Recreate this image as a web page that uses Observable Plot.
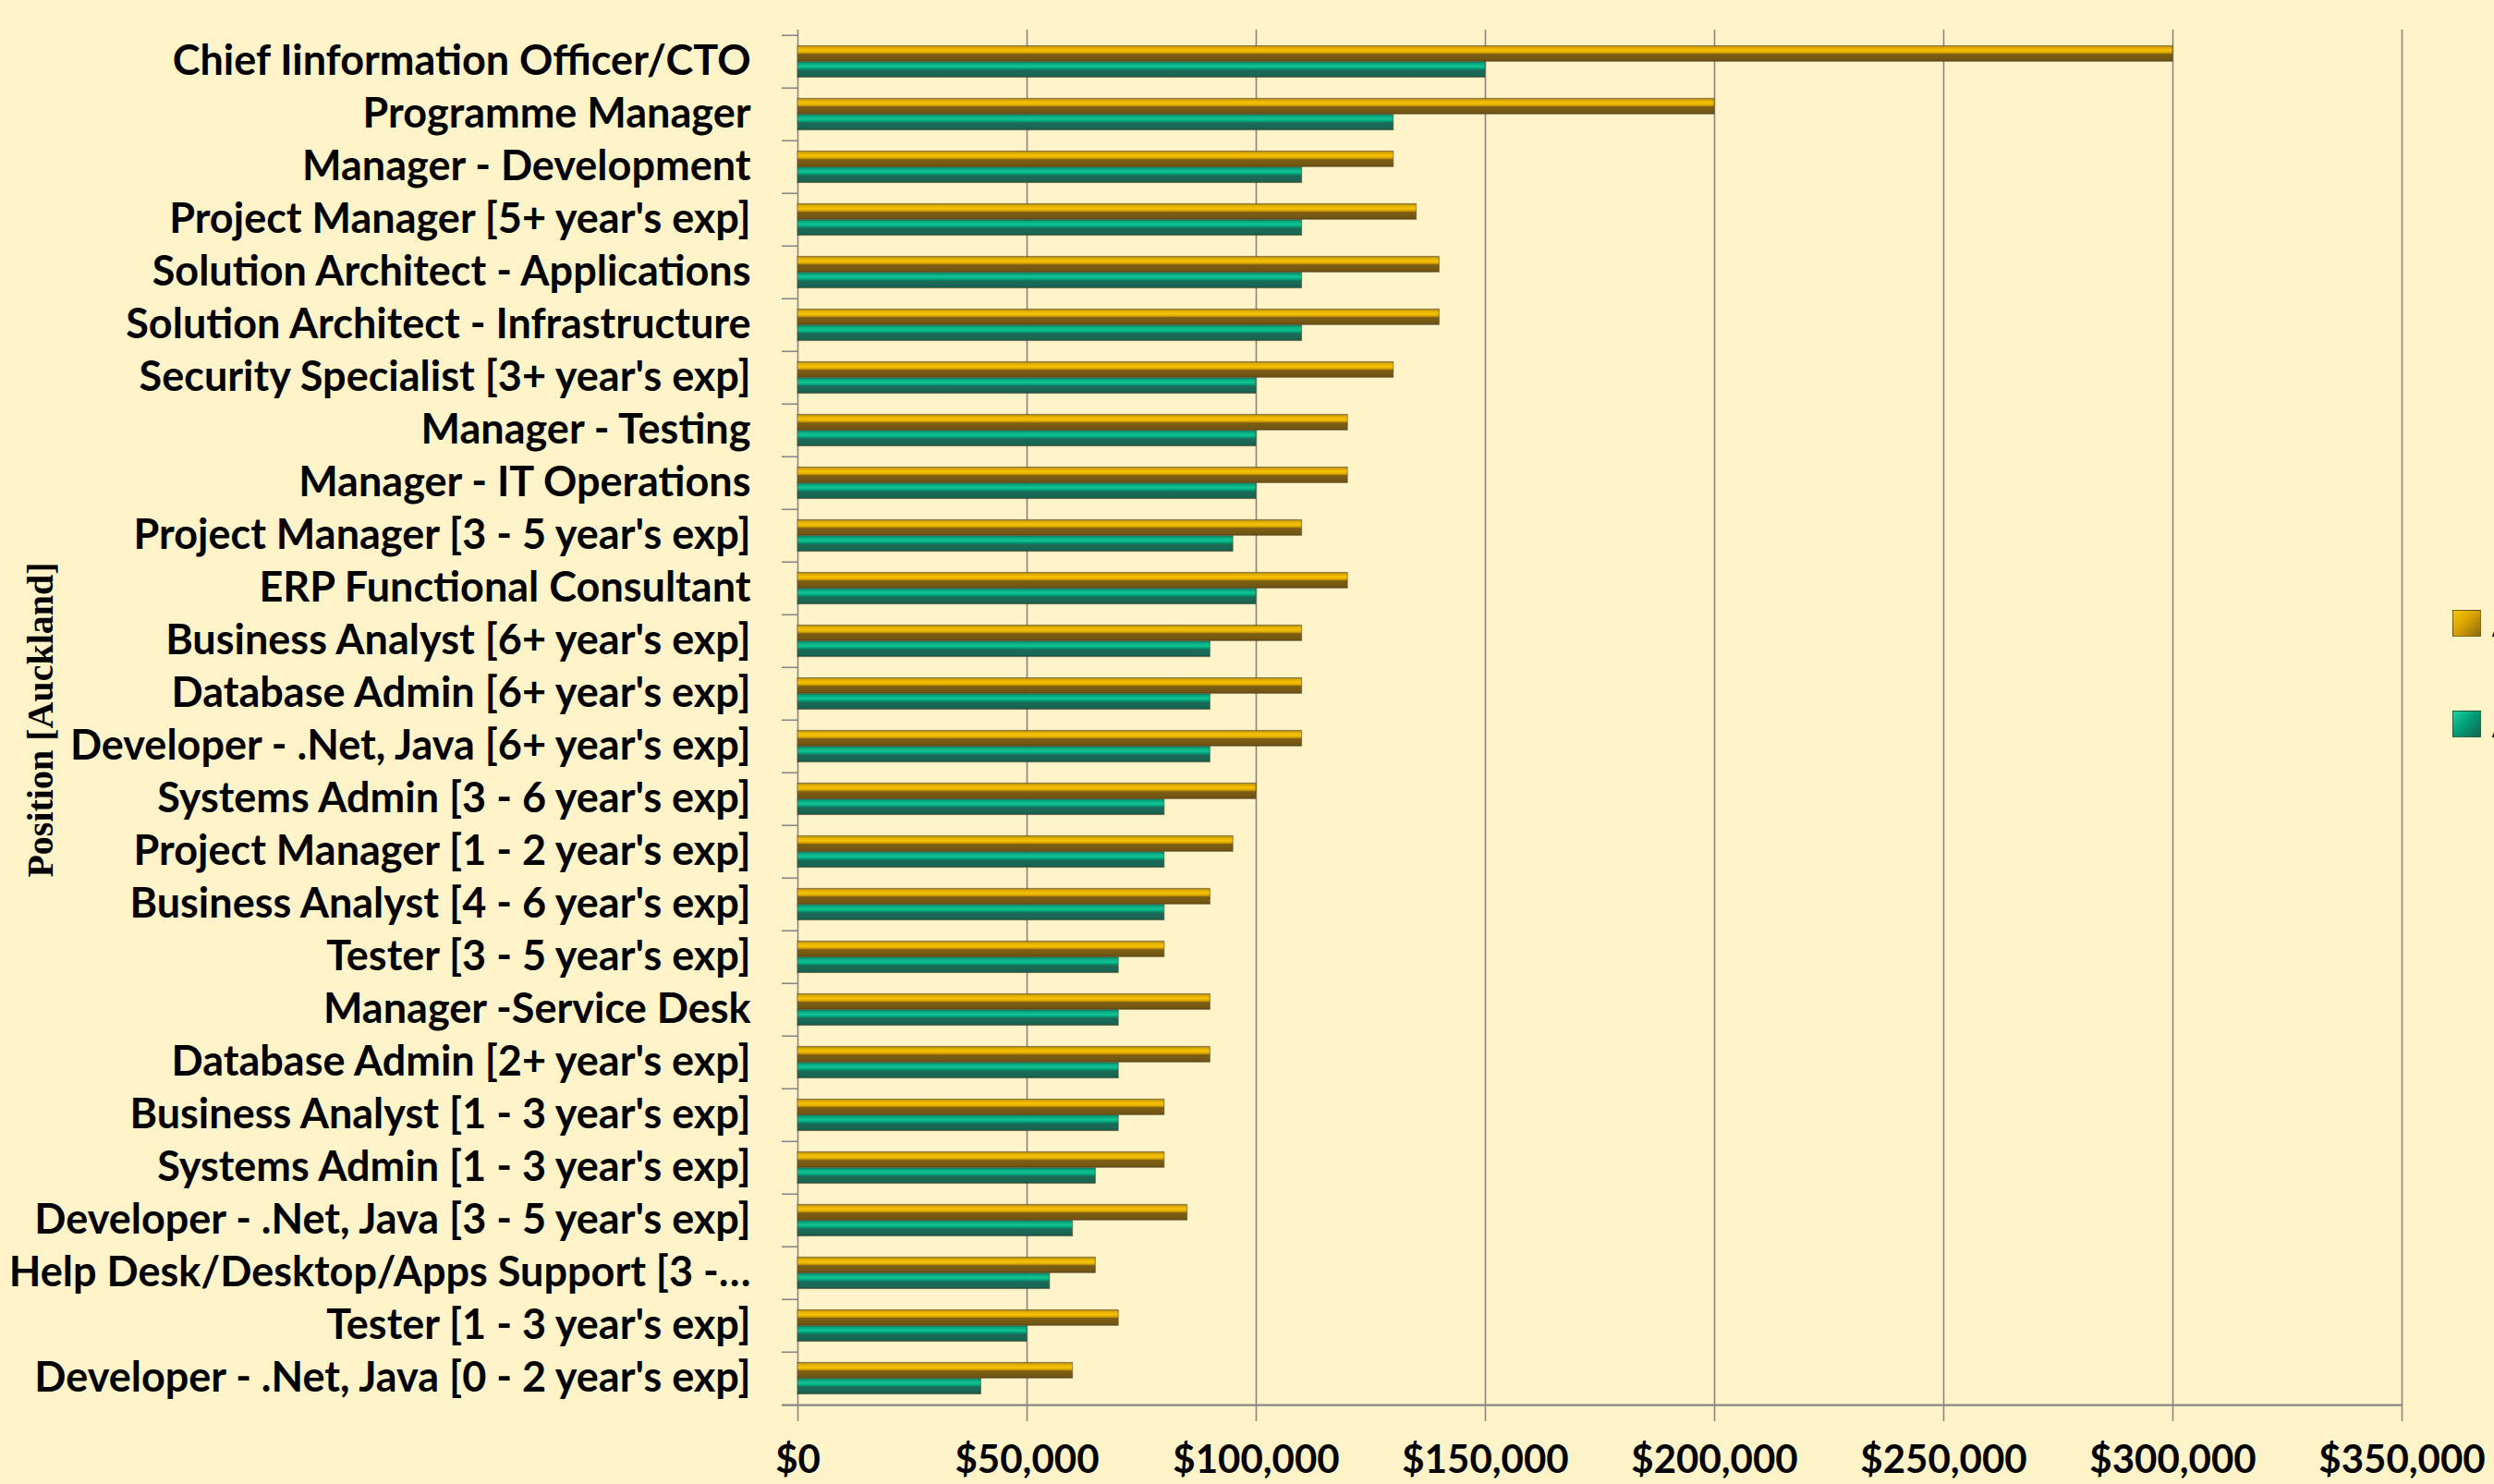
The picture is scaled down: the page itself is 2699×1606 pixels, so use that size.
<!DOCTYPE html>
<html>
<head>
<meta charset="utf-8">
<script src="https://cdn.jsdelivr.net/npm/d3@7"></script>
<script src="https://cdn.jsdelivr.net/npm/@observablehq/plot@0.6"></script>
<style>
  html, body { margin: 0; padding: 0; background: #FFF3C9; overflow: hidden; }
  #wrap { position: relative; width: 2699px; height: 1606px; }
  #legend { position: absolute; left: 2654px; top: 650px; font-family: Lato, sans-serif; font-weight: bold; font-size: 40px; color: #000; }
  .item { position: absolute; left: 0; white-space: nowrap; display: flex; align-items: center; }
  .sw { width: 31px; height: 29px; box-sizing: border-box; border: 1.5px solid rgba(60,50,20,0.55); margin-right: 12px; }
</style>
</head>
<body>
<div id="wrap"><div id="legend"></div></div>
<script>
const positions = [
  "Chief Iinformation Officer/CTO",
  "Programme Manager",
  "Manager - Development",
  "Project Manager [5+ year's exp]",
  "Solution Architect - Applications",
  "Solution Architect - Infrastructure",
  "Security Specialist [3+ year's exp]",
  "Manager - Testing",
  "Manager - IT Operations",
  "Project Manager [3 - 5 year's exp]",
  "ERP Functional Consultant",
  "Business Analyst [6+ year's exp]",
  "Database Admin [6+ year's exp]",
  "Developer - .Net, Java [6+ year's exp]",
  "Systems Admin [3 - 6 year's exp]",
  "Project Manager [1 - 2 year's exp]",
  "Business Analyst [4 - 6 year's exp]",
  "Tester [3 - 5 year's exp]",
  "Manager -Service Desk",
  "Database Admin [2+ year's exp]",
  "Business Analyst [1 - 3 year's exp]",
  "Systems Admin [1 - 3 year's exp]",
  "Developer - .Net, Java [3 - 5 year's exp]",
  "Help Desk/Desktop/Apps Support [3 -…",
  "Tester [1 - 3 year's exp]",
  "Developer - .Net, Java [0 - 2 year's exp]"
];
const highSalary = [300000, 200000, 130000, 135000, 140000, 140000, 130000, 120000, 120000, 110000, 120000, 110000, 110000, 110000, 100000, 95000, 90000, 80000, 90000, 90000, 80000, 80000, 85000, 65000, 70000, 60000];
const lowSalary  = [150000, 130000, 110000, 110000, 110000, 110000, 100000, 100000, 100000, 95000, 100000, 90000, 90000, 90000, 80000, 80000, 80000, 70000, 70000, 70000, 70000, 65000, 60000, 55000, 50000, 40000];
const xTicks = [0, 50000, 100000, 150000, 200000, 250000, 300000, 350000];
const seriesNames = ["Auckland - Max", "Auckland - Min"];
const yTitle = "Position [Auckland]";

const rows = positions.map((p, i) => ({position: p, high: highSalary[i], low: lowSalary[i]}));

const W = 2699, H = 1606;
const mL = 863, mR = 100, mT = 32, mB = 81;
const bw = (H - mT - mB) / positions.length;
const gridColor = "#878787";
const barStroke = "rgba(70,60,30,0.45)";
const fontFamily = "Lato, sans-serif";

const chart = Plot.plot({
  width: W, height: H,
  marginLeft: mL, marginRight: mR, marginTop: mT, marginBottom: mB,
  style: {background: "transparent", fontFamily, color: "#000"},
  x: {domain: [0, 350000]},
  y: {domain: positions, padding: 0},
  marks: [
    Plot.gridX(xTicks, {stroke: gridColor, strokeOpacity: 1, strokeWidth: 1.6}),
    Plot.barX(rows, {y: "position", x: "high", fill: "url(#goldGrad)", stroke: barStroke, strokeWidth: 1.2,
      insetTop: bw * 0.2, insetBottom: bw * 0.5}),
    Plot.barX(rows, {y: "position", x: "low", fill: "url(#tealGrad)", stroke: barStroke, strokeWidth: 1.2,
      insetTop: bw * 0.5, insetBottom: bw * 0.2}),
    // category boundary ticks on the y axis
    Plot.ruleY(positions, {y: d => d, dy: -bw / 2, stroke: gridColor, strokeWidth: 1.6, insetLeft: -17, insetRight: W - mL - mR}),
    // bottom axis line
    Plot.ruleY(positions.slice(-1), {y: d => d, dy: bw / 2, stroke: gridColor, strokeWidth: 2.2, insetLeft: -17}),
    Plot.axisY({tickSize: 0, tickPadding: 51, fontSize: 45, fontWeight: "bold", fill: "#000", label: null}),
    Plot.axisX(xTicks, {tickSize: 13, tickPadding: 26, stroke: gridColor, strokeWidth: 1.6, fill: "#000",
      fontSize: 42, fontWeight: "bold", label: null, tickFormat: d => "$" + d3.format(",")(d)}),
    Plot.text([yTitle], {frameAnchor: "left", textAnchor: "middle", rotate: -90, dx: 44 - mL, fontSize: 40, fontWeight: "bold",
      fontFamily: "'Liberation Serif', 'Times New Roman', serif", fill: "#000", text: d => d})
  ]
});

// gradients for the bevelled bars
const ns = "http://www.w3.org/2000/svg";
const defs = document.createElementNS(ns, "defs");
function grad(id, stops) {
  const g = document.createElementNS(ns, "linearGradient");
  g.setAttribute("id", id);
  g.setAttribute("x1", "0"); g.setAttribute("y1", "0");
  g.setAttribute("x2", "0"); g.setAttribute("y2", "1");
  for (const [o, c] of stops) {
    const s = document.createElementNS(ns, "stop");
    s.setAttribute("offset", o);
    s.setAttribute("stop-color", c);
    g.appendChild(s);
  }
  defs.appendChild(g);
}
grad("goldGrad", [[0, "#a07c18"], [0.1, "#dca800"], [0.3, "#f6c300"], [0.45, "#d9a400"], [0.55, "#7d5e14"], [0.9, "#735613"], [1, "#5e4610"]]);
grad("tealGrad", [[0, "#0a7d62"], [0.1, "#00a47b"], [0.3, "#14c495"], [0.45, "#00a078"], [0.55, "#1a6b58"], [0.9, "#186552"], [1, "#10503f"]]);
chart.insertBefore(defs, chart.firstChild);

document.getElementById("wrap").prepend(chart);

// legend
const legend = document.getElementById("legend");
const swatchBg = [
  "linear-gradient(135deg, #f7c600 0%, #d9a400 45%, #8a6a14 100%)",
  "linear-gradient(135deg, #22d3a4 0%, #00a078 45%, #176352 100%)"
];
seriesNames.forEach((name, i) => {
  const item = document.createElement("div");
  item.className = "item";
  item.style.top = (i * 109) + "px";
  const sw = document.createElement("div");
  sw.className = "sw";
  sw.style.background = swatchBg[i];
  item.appendChild(sw);
  const t = document.createElement("span");
  t.textContent = name;
  item.appendChild(t);
  legend.appendChild(item);
});
</script>
</body>
</html>
